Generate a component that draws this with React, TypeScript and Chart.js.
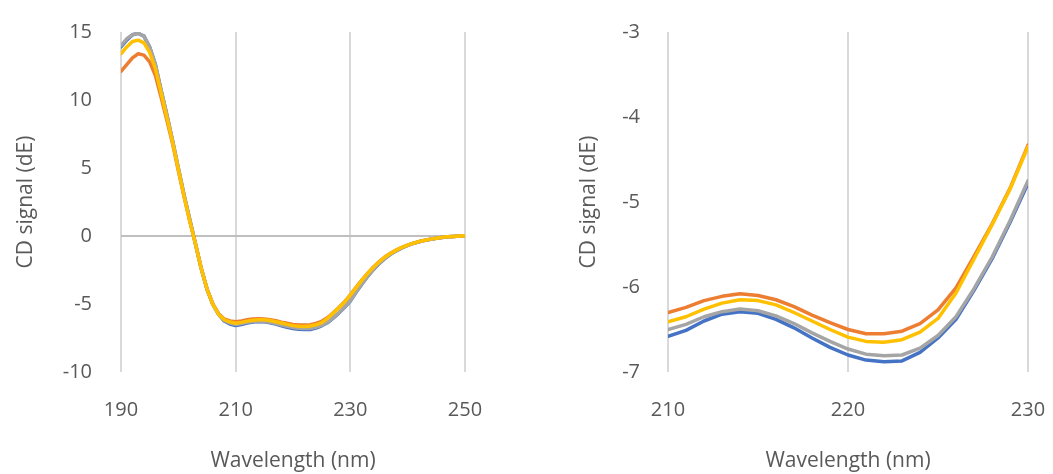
import React, { useEffect, useRef } from "react";
import { Chart, registerables } from "chart.js";
Chart.register(...registerables);

const wavelengths = [
  190, 191, 192, 193, 194, 195, 196, 197, 198, 199, 200, 201, 202, 203, 204, 205, 206, 207, 208, 209,
  210, 211, 212, 213, 214, 215, 216, 217, 218, 219, 220, 221, 222, 223, 224, 225, 226, 227, 228, 229, 230,
  231, 232, 233, 234, 235, 236, 237, 238, 239, 240, 241, 242, 243, 244, 245, 246, 247, 248, 249, 250,
];

const blueSeries = [
  13.9, 14.4, 14.8, 14.9, 14.7, 13.9, 12.6, 10.7, 8.9, 7.0, 5.0, 3.0, 1.2, -0.6, -2.4, -3.9, -5.0, -5.75, -6.25, -6.47,
  -6.58, -6.51, -6.4, -6.32, -6.29, -6.31, -6.38, -6.48, -6.6, -6.71, -6.8, -6.86, -6.88, -6.87, -6.77, -6.6, -6.38, -6.04, -5.67, -5.24, -4.78,
  -4.14, -3.54, -2.98, -2.48, -2.04, -1.66, -1.35, -1.09, -0.87, -0.69, -0.54, -0.42, -0.32, -0.24, -0.17, -0.11, -0.06, -0.03, 0.0, 0.02,
];

const orangeSeries = [
  12.1, 12.6, 13.1, 13.4, 13.3, 12.8, 11.8, 10.2, 8.5, 6.8, 4.8, 2.9, 1.1, -0.6, -2.4, -3.9, -5.0, -5.7, -6.1, -6.25,
  -6.3, -6.24, -6.16, -6.11, -6.08, -6.1, -6.15, -6.23, -6.33, -6.42, -6.5, -6.55, -6.55, -6.52, -6.43, -6.27, -6.01, -5.64, -5.26, -4.84, -4.33,
  -3.78, -3.25, -2.75, -2.3, -1.9, -1.55, -1.27, -1.03, -0.83, -0.67, -0.53, -0.41, -0.31, -0.23, -0.16, -0.1, -0.06, -0.03, 0.0, 0.02,
];

const graySeries = [
  14.0, 14.5, 14.8, 14.9, 14.7, 13.9, 12.6, 10.7, 8.9, 7.0, 5.0, 3.0, 1.2, -0.6, -2.4, -3.9, -5.0, -5.75, -6.2, -6.4,
  -6.5, -6.44, -6.35, -6.29, -6.26, -6.28, -6.34, -6.43, -6.54, -6.64, -6.73, -6.79, -6.81, -6.8, -6.72, -6.57, -6.35, -6.02, -5.65, -5.22, -4.75,
  -4.12, -3.52, -2.97, -2.47, -2.03, -1.65, -1.34, -1.08, -0.86, -0.69, -0.54, -0.42, -0.32, -0.24, -0.17, -0.11, -0.06, -0.03, 0.0, 0.02,
];

const yellowSeries = [
  13.4, 13.9, 14.3, 14.4, 14.2, 13.5, 12.3, 10.5, 8.7, 6.9, 4.9, 2.9, 1.1, -0.6, -2.4, -3.9, -5.0, -5.75, -6.15, -6.33,
  -6.41, -6.35, -6.26, -6.19, -6.15, -6.16, -6.21, -6.3, -6.4, -6.5, -6.59, -6.64, -6.65, -6.62, -6.53, -6.37, -6.07, -5.67, -5.27, -4.85, -4.35,
  -3.8, -3.27, -2.77, -2.31, -1.91, -1.56, -1.28, -1.04, -0.84, -0.67, -0.53, -0.41, -0.31, -0.23, -0.16, -0.1, -0.06, -0.03, 0.0, 0.02,
];

const seriesList = [
  { name: "Series 4", data: yellowSeries, color: "#FFC000" },
  { name: "Series 3", data: graySeries, color: "#A5A5A5" },
  { name: "Series 2", data: orangeSeries, color: "#ED7D31" },
  { name: "Series 1", data: blueSeries, color: "#4472C4" },
];

const xTitle = "Wavelength (nm)";
const yTitle = "CD signal (dE)";

const leftRange = { xMin: 190, xMax: 250, xStep: 20, yMin: -10, yMax: 15, yStep: 5 };
const rightRange = { xMin: 210, xMax: 230, xStep: 10, yMin: -7, yMax: -3, yStep: 1 };

const FONT = "'Open Sans', sans-serif";
const TEXT = "#595959";

function makeConfig(range: any, yAxisWidth: number, padRight: number, yTitlePad: number, yTickPad: number): any {
  return {
    type: "line",
    data: {
      datasets: seriesList.map((s) => ({
        label: s.name,
        data: wavelengths.map((w, i) => ({ x: w, y: s.data[i] })),
        borderColor: s.color,
        backgroundColor: s.color,
        borderWidth: 3.5,
        pointRadius: 0,
        tension: 0,
        borderJoinStyle: "round",
        borderCapStyle: "round",
        fill: false,
      })),
    },
    options: {
      animation: false,
      responsive: false,
      maintainAspectRatio: false,
      events: [],
      layout: { padding: { left: 0, right: padRight, top: 32, bottom: 0 } },
      plugins: { legend: { display: false }, tooltip: { enabled: false }, title: { display: false } },
      scales: {
        x: {
          type: "linear",
          min: range.xMin,
          max: range.xMax,
          border: { display: false },
          grid: { color: "#D9D9D9", lineWidth: 2, drawTicks: false },
          ticks: {
            stepSize: range.xStep,
            color: TEXT,
            font: { family: FONT, size: 20 },
            padding: 26,
            maxRotation: 0,
          },
          title: {
            display: true,
            text: xTitle,
            color: TEXT,
            font: { family: FONT, size: 21 },
            padding: { top: 0, bottom: 0 },
          },
          afterFit: (scale: any) => {
            scale.height = 102;
            scale.paddingLeft = 0;
            scale.paddingRight = 0;
          },
        },
        y: {
          type: "linear",
          min: range.yMin,
          max: range.yMax,
          border: { display: false },
          grid: {
            drawTicks: false,
            lineWidth: 2,
            color: (ctx: any) => (ctx.tick && ctx.tick.value === 0 ? "#BFBFBF" : "rgba(0,0,0,0)"),
          },
          ticks: {
            stepSize: range.yStep,
            color: TEXT,
            font: { family: FONT, size: 20 },
            padding: yTickPad,
          },
          title: {
            display: true,
            text: yTitle,
            color: TEXT,
            font: { family: FONT, size: 21 },
            padding: { top: yTitlePad, bottom: 0 },
          },
          afterFit: (scale: any) => {
            scale.width = yAxisWidth;
            scale.paddingTop = 0;
            scale.paddingBottom = 0;
          },
        },
      },
    },
  };
}

function Panel(props: { left: number; width: number; config: any }) {
  const ref = useRef<HTMLCanvasElement | null>(null);
  useEffect(() => {
    if (!ref.current) return;
    const chart = new Chart(ref.current, props.config);
    return () => chart.destroy();
  }, []);
  return (
    <canvas
      ref={ref}
      width={props.width}
      height={474}
      style={{ position: "absolute", left: props.left, top: 0, width: props.width, height: 474 }}
    />
  );
}

export default function App() {
  const leftCfg = makeConfig(leftRange, 121, 527 - 465, 13, 29);
  const rightCfg = makeConfig(rightRange, 141, 1053 - 1028, 49, 28);
  return (
    <div style={{ position: "fixed", left: 0, top: 0, width: 1053, height: 474, background: "#FFFFFF" }}>
      <Panel left={0} width={527} config={leftCfg} />
      <Panel left={527} width={526} config={rightCfg} />
    </div>
  );
}
